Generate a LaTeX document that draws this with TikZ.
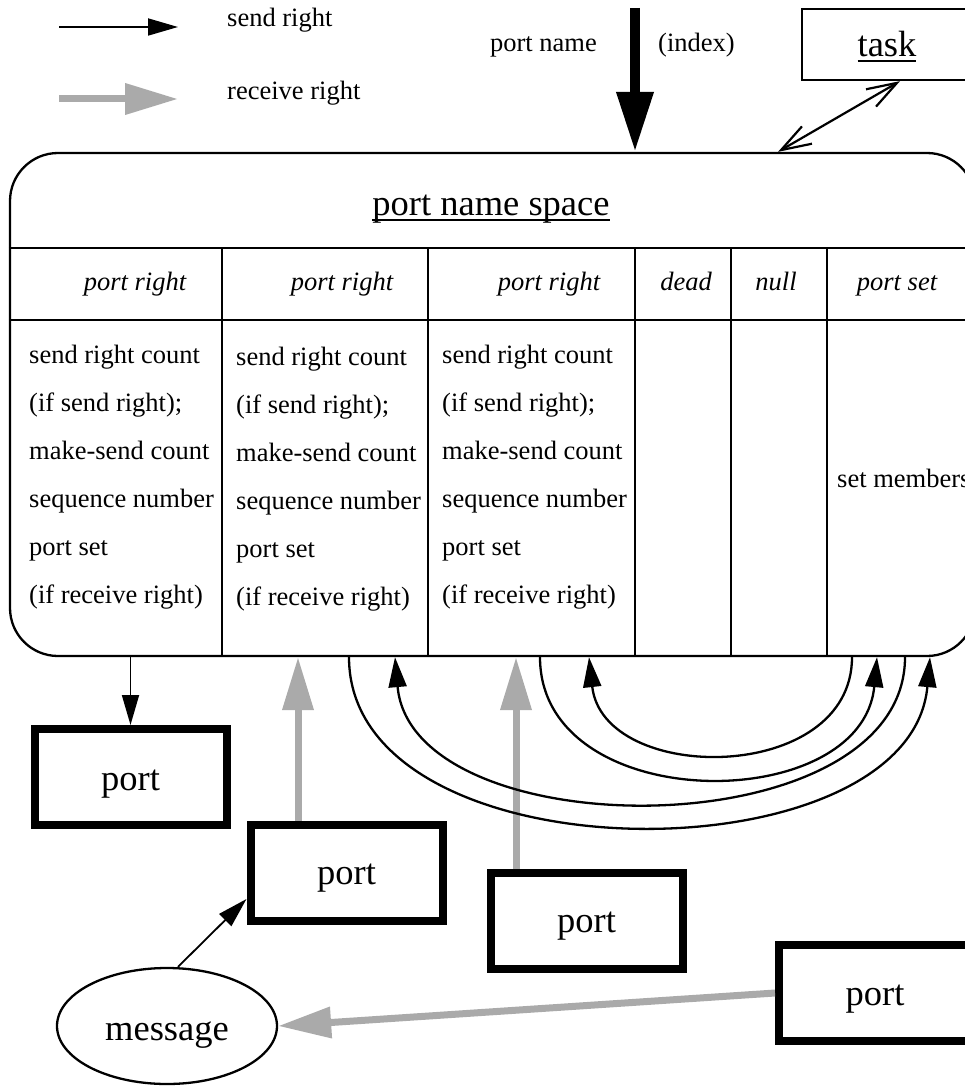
\documentclass[tikz,border=0pt]{standalone}
\usepackage{fontspec}
\setmainfont{Liberation Serif}
\usetikzlibrary{arrows.meta,shapes.geometric}
\definecolor{rgray}{RGB}{170,170,170}
\newcommand\myul[1]{\setbox0\hbox{#1}\rlap{\rule[-5.5pt]{\wd0}{2pt}}\box0}
\tikzset{
  small/.style={font=\fontsize{26.5}{30}\selectfont, inner sep=0pt},
  big/.style={font=\fontsize{36.5}{40}\selectfont, inner sep=0pt},
  frame/.style={draw, line width=2.3pt},
  portbox/.style={draw, line width=8pt, minimum width=192pt, minimum height=96pt, inner sep=0pt},
  sendarrow/.style={line width=1.8pt, -{Triangle[length=30pt,width=17pt]}},
  recvarrow/.style={rgray, line width=7pt, -{Triangle[length=53pt,width=30pt]}},
  arcarrow/.style={line width=2.3pt, -{Triangle[length=30pt,width=18pt]}},
  namearrow/.style={line width=10pt, -{Triangle[length=60pt,width=35pt]}},
  taskarrow/.style={line width=2.2pt, {Straight Barb[length=30pt,width=20pt]}-{Straight Barb[length=30pt,width=20pt]}}
}
\begin{document}
\begin{tikzpicture}[x=1pt,y=-1pt]
\useasboundingbox (0,0) rectangle (965,1086);
\clip (0,0) rectangle (965,1086);
% legend
\coordinate (lg1s) at (59,27); \coordinate (lg1e) at (178,27);
\draw[sendarrow] (lg1s) -- (lg1e);
\node[small, anchor=base west] (lgt1) at (227,27) {send right};
\coordinate (lg2s) at (59,99); \coordinate (lg2e) at (178,99);
\draw[recvarrow] (lg2s) -- (lg2e);
\node[small, anchor=base west] (lgt2) at (227,100) {receive right};
% port name space
\node[frame, rounded corners=48pt, minimum width=965pt, minimum height=503pt, inner sep=0pt] (pns) at (492.5,404.5) {};
\node[big, anchor=base] (title) at (491,215) {\myul{port name space}};
\draw[frame] (pns.west |- 0,248) -- (pns.east |- 0,248);
\draw[frame] (pns.west |- 0,320) -- (pns.east |- 0,320);
\foreach \x in {222,428,635,731,827} {\draw[frame] (\x,248) -- (pns.south -| \x,0);}
% headers
\node[small, anchor=base] (h1) at (135,290) {\itshape port right};
\node[small, anchor=base] (h2) at (342,290) {\itshape port right};
\node[small, anchor=base] (h3) at (549,290) {\itshape port right};
\node[small, anchor=base] (h4) at (686,290) {\itshape dead};
\node[small, anchor=base] (h5) at (776,290) {\itshape null};
\node[small, anchor=base] (h6) at (897,290) {\itshape port set};
% cells
\foreach \col/\x/\y in {a/29/363, b/236/365, c/442/363} {
  \foreach \t [count=\i from 0] in {{send right count}, {(if send right);}, {make-send count}, {sequence number}, {port set}, {(if receive right)}} {
    \node[small, anchor=base west] (cell\col\i) at (\x,\y+48*\i) {\t};
  }
}
\node[small, anchor=base west] (setm) at (837,487) {set members};
% name arrow
\coordinate (pnstart) at (635,8);
\draw[namearrow] (pnstart) -- (pnstart |- pns.north);
\node[small, anchor=base east] (pnl) at (597,52) {port name};
\node[small, anchor=base west] (pnr) at (658,52) {(index)};
% task
\node[frame, minimum width=170pt, minimum height=71pt, inner sep=0pt] (task) at (887,44.5) {};
\node[big, anchor=base] (taskt) at (887,57) {\myul{task}};
\draw[taskarrow] (pns.north -| 778,0) -- ([xshift=13pt]task.south);
% ports
\node[portbox] (p1) at (130.5,777) {};
\node[big, anchor=base] (p1t) at (130.5,790) {port};
\node[portbox] (p2) at (346.5,872.5) {};
\node[big, anchor=base] (p2t) at (346.5,884) {port};
\node[portbox] (p3) at (586.5,920.5) {};
\node[big, anchor=base] (p3t) at (586.5,932) {port};
\node[portbox] (p4) at (875,993) {};
\node[big, anchor=base] (p4t) at (875,1005) {port};
% message
\node[draw, ellipse, line width=2.3pt, minimum width=220pt, minimum height=116pt, inner sep=0pt] (msg) at (167,1026) {};
\node[big, anchor=base] (msgt) at (167,1040) {message};
% connectors
\draw[sendarrow] (pns.south -| p1) -- (p1.north);
\draw[recvarrow] (p2.north -| 298,0) -- (pns.south -| 298,0);
\draw[recvarrow] (p3.north -| 516,0) -- (pns.south -| 516,0);
\draw[sendarrow] (msg.north -| 178,0) -- (p2.west |- 0,899);
\draw[recvarrow] (p4.west) -- (msg.east);
% arcs
\draw[arcarrow] (pns.south -| 349,0) .. controls (349,881) and (910,881) .. (pns.south -| 930,0);
\draw[arcarrow] (pns.south -| 905,0) .. controls (905,850) and (412,850) .. (pns.south -| 395,0);
\draw[arcarrow] (pns.south -| 540,0) .. controls (540,817) and (862,817) .. (pns.south -| 877,0);
\draw[arcarrow] (pns.south -| 852,0) .. controls (852,785) and (603,785) .. (pns.south -| 589,0);
\end{tikzpicture}
\end{document}
